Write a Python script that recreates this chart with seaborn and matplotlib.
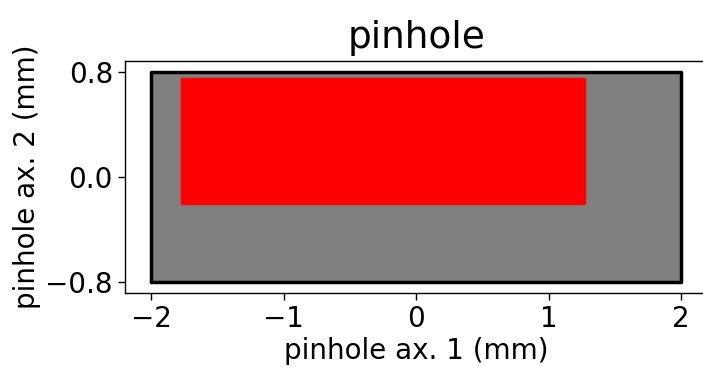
import matplotlib
matplotlib.use("Agg")
import matplotlib.pyplot as plt
import seaborn as sns
import pandas as pd

# pinhole aperture (mm)
pinhole_x = [-2.0, 2.0, 2.0, -2.0, -2.0]
pinhole_y = [-0.8, -0.8, 0.8, 0.8, -0.8]
# beam footprint on pinhole (mm)
beam_x = [-1.77, 1.27, 1.27, -1.77, -1.77]
beam_y = [-0.195, -0.195, 0.748, 0.748, -0.195]

x_ticks = [-2, -1, 0, 1, 2]
y_ticks = [-0.8, 0.0, 0.8]
y_ticklabels = ["\u22120.8", "0.0", "0.8"]

sns.set_style("ticks")
plt.rcParams['font.family'] = ['DejaVu Sans']
plt.rcParams['text.color'] = 'black'
plt.rcParams['axes.labelcolor'] = 'black'

fig = plt.figure(figsize=(7.03, 3.67), dpi=100)
ax = fig.add_axes([0.1774, 0.2008, 0.829, 0.6338])

ax.fill(pinhole_x, pinhole_y, color="gray", zorder=1)
ax.fill(beam_x, beam_y, facecolor="red", edgecolor="red", linewidth=2.5,
        joinstyle="round", zorder=2)
df = pd.DataFrame({"x": pinhole_x, "y": pinhole_y, "i": range(len(pinhole_x))})
sns.lineplot(data=df, x="x", y="y", sort=False, estimator=None, color="black",
             linewidth=2.5, ax=ax, zorder=3)

ax.set_xlim(-2.2, 2.2)
ax.set_ylim(-0.884, 0.884)
ax.set_xticks(x_ticks)
ax.set_yticks(y_ticks)
ax.set_yticklabels(y_ticklabels)
ax.tick_params(labelsize=20, length=5, width=1, colors="black")
for s in ax.spines.values():
    s.set_color("black")
    s.set_linewidth(1.0)
ax.set_xlabel("pinhole ax. 1 (mm)", fontsize=20, labelpad=3)
ax.set_ylabel("pinhole ax. 2 (mm)", fontsize=20, labelpad=3)
ax.set_title("pinhole", fontsize=27, pad=9)

fig.savefig("out.png", dpi=100)
